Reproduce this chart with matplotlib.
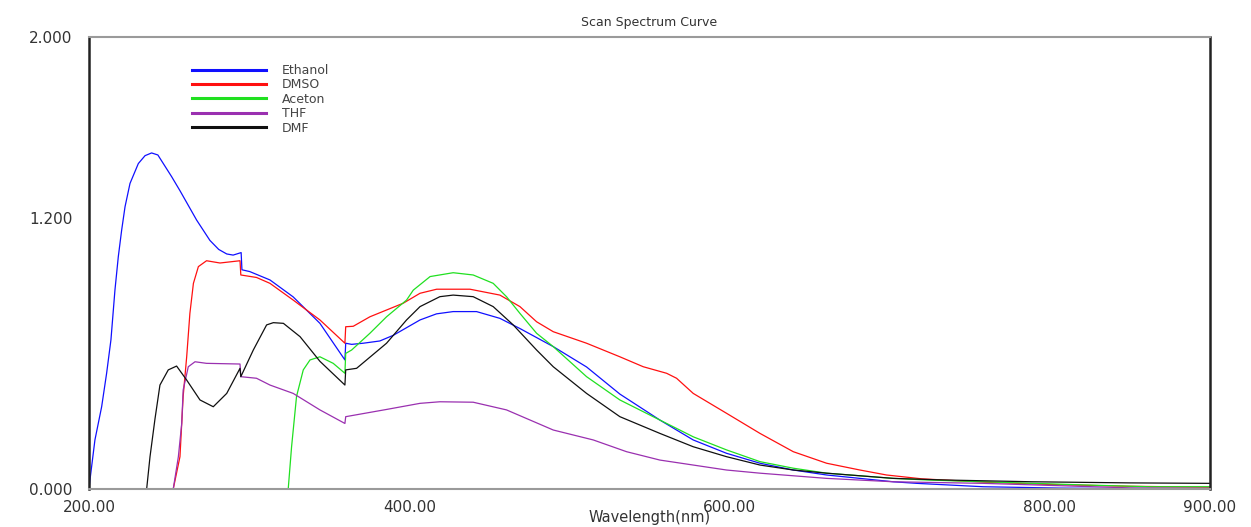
import numpy as np
import matplotlib
matplotlib.use("Agg")
import matplotlib.pyplot as plt

names = ["Ethanol", "DMSO", "Aceton", "THF", "DMF"]
colors = ["#1010ff", "#ff1010", "#20e020", "#9a30b0", "#101010"]

# wavelength (nm) / absorbance
eth_x = [200, 200.6, 203.7, 207.9, 211, 213.7, 216.2, 218.3, 220.4, 222.5, 225.6, 230.8, 235, 239.1, 243,
         251.6, 256.8, 267.2, 275.5, 281, 286, 290, 295.0, 295.5, 300.4, 313, 327.5, 344.2, 359.8, 360.3,
         364, 371.2, 381.6, 390, 406.7, 417, 427.4, 442, 456.6, 469.1, 489.9, 510.7, 531.5, 556.5, 577.3,
         598.1, 619, 639.8, 660.6, 681.4, 702.2, 716.8, 758.4, 806, 850, 900]
eth_y = [0, 0.04, 0.217, 0.364, 0.512, 0.66, 0.88, 1.028, 1.146, 1.249, 1.352, 1.44, 1.475, 1.487, 1.478,
         1.382, 1.32, 1.19, 1.10, 1.06, 1.04, 1.035, 1.046, 0.97, 0.962, 0.925, 0.85, 0.733, 0.571, 0.645,
         0.64, 0.645, 0.655, 0.68, 0.748, 0.775, 0.785, 0.785, 0.755, 0.71, 0.63, 0.54, 0.42, 0.305, 0.217,
         0.158, 0.114, 0.084, 0.062, 0.047, 0.032, 0.025, 0.01, 0.004, 0.002, 0.0]

dmso_x = [200, 252.6, 256.8, 258.8, 261, 263, 265.2, 268.3, 273.4, 281.8, 294.3, 294.8, 304.6, 313, 327.5,
          344.2, 359.8, 360.3, 365, 375.4, 396.2, 406.7, 417.1, 437.9, 456.6, 469.1, 479.5, 489.9, 510.7,
          531.5, 546.1, 560.7, 566.9, 577.3, 598.1, 619, 639.8, 660.6, 681.4, 698, 720, 760, 800, 850, 900]
dmso_y = [0, 0, 0.143, 0.41, 0.585, 0.777, 0.91, 0.984, 1.01, 1.0, 1.01, 0.947, 0.936, 0.91, 0.836,
          0.748, 0.645, 0.718, 0.72, 0.762, 0.822, 0.866, 0.884, 0.884, 0.858, 0.807, 0.74, 0.696, 0.645,
          0.585, 0.541, 0.512, 0.49, 0.423, 0.335, 0.246, 0.165, 0.114, 0.084, 0.062, 0.045, 0.03, 0.02,
          0.012, 0.008]

ace_x = [200, 324.4, 326.5, 329.6, 333.8, 338, 344.2, 352.5, 359.8, 360.3, 364, 375.4, 385.8, 398.3,
         402.5, 413, 427.4, 439.9, 452.4, 460.7, 469.1, 479.5, 489.9, 510.7, 531.5, 556.5, 577.3, 598.1,
         619, 639.8, 660.6, 702.2, 723, 758.4, 821, 862, 900]
ace_y = [0, 0, 0.187, 0.41, 0.527, 0.571, 0.585, 0.556, 0.512, 0.60, 0.615, 0.689, 0.762, 0.836,
         0.88, 0.94, 0.957, 0.947, 0.91, 0.851, 0.777, 0.689, 0.63, 0.497, 0.394, 0.305, 0.231, 0.173,
         0.121, 0.092, 0.07, 0.047, 0.04, 0.032, 0.018, 0.01, 0.01]

thf_x = [200, 252.6, 255.8, 257.9, 258.8, 262, 266.2, 273.4, 294.3, 294.8, 304.6, 313, 327.5, 344.2,
         359.8, 360.3, 385.8, 406.7, 419.1, 439.9, 460.7, 489.9, 514.9, 535.7, 556.5, 577.3, 598.1, 619,
         660.6, 702.2, 758.4, 850, 900]
thf_y = [0, 0, 0.143, 0.29, 0.438, 0.541, 0.563, 0.556, 0.553, 0.497, 0.49, 0.46, 0.423, 0.35,
         0.29, 0.32, 0.352, 0.379, 0.386, 0.384, 0.35, 0.261, 0.217, 0.165, 0.128, 0.106, 0.084, 0.07,
         0.047, 0.032, 0.025, 0.005, 0.003]

dmf_x = [200, 236, 238.1, 241.2, 244.3, 249.5, 254.7, 261, 269.3, 277.6, 286, 294.3, 294.8, 302.6,
         310.9, 315.1, 321.4, 331.8, 344.2, 359.8, 360.3, 367.1, 385.8, 398.3, 406.7, 419.1, 427.4, 439.9,
         452.4, 464.9, 479.5, 489.9, 510.7, 531.5, 556.5, 577.3, 598.1, 619, 639.8, 660.6, 702.2, 733.4,
         789, 850, 900]
dmf_y = [0, 0, 0.143, 0.31, 0.46, 0.527, 0.544, 0.482, 0.394, 0.364, 0.423, 0.534, 0.497, 0.615,
         0.726, 0.736, 0.733, 0.674, 0.565, 0.46, 0.527, 0.534, 0.645, 0.748, 0.807, 0.851, 0.858, 0.851,
         0.807, 0.726, 0.615, 0.541, 0.423, 0.32, 0.246, 0.187, 0.143, 0.106, 0.084, 0.07, 0.047, 0.04,
         0.032, 0.027, 0.025]

xs = [eth_x, dmso_x, ace_x, thf_x, dmf_x]
ys = [eth_y, dmso_y, ace_y, thf_y, dmf_y]

fig = plt.figure(figsize=(12.51, 5.27), dpi=100)
ax = fig.add_axes([89 / 1251, 38 / 527, 1121 / 1251, 452 / 527])

for x, y, name, c in zip(xs, ys, names, colors):
    ax.plot(np.array(x), np.array(y), color=c, lw=0.9, label=name)

ax.set_xlim(200, 900)
ax.set_ylim(0, 2)
ax.set_xticks([200, 400, 600, 800, 900])
ax.set_xticklabels(["200.00", "400.00", "600.00", "800.00", "900.00"])
ax.set_yticks([0, 1.2, 2.0])
ax.set_yticklabels(["0.000", "1.200", "2.000"])
ax.tick_params(axis="both", length=0, labelsize=11, colors="#333333")
ax.tick_params(axis="y", pad=12)
ax.tick_params(axis="x", pad=8)

for side in ["left", "right"]:
    ax.spines[side].set_color("#222222")
    ax.spines[side].set_linewidth(1.8)
for side in ["top", "bottom"]:
    ax.spines[side].set_color("#9a9a9a")
    ax.spines[side].set_linewidth(1.5)

ax.set_title("Scan Spectrum Curve", fontsize=9, color="#333333", pad=8)
ax.set_xlabel("Wavelength(nm)", fontsize=10.5, color="#333333", labelpad=-4)

leg = ax.legend(loc="upper left", bbox_to_anchor=(0.092, 0.94), frameon=False, fontsize=9,
                handlelength=5.9, handletextpad=1.3, labelspacing=0.11, borderpad=0, borderaxespad=0)
for ln in leg.get_lines():
    ln.set_linewidth(2.2)
for t in leg.get_texts():
    t.set_color("#444444")

fig.savefig("out.png", dpi=100)
